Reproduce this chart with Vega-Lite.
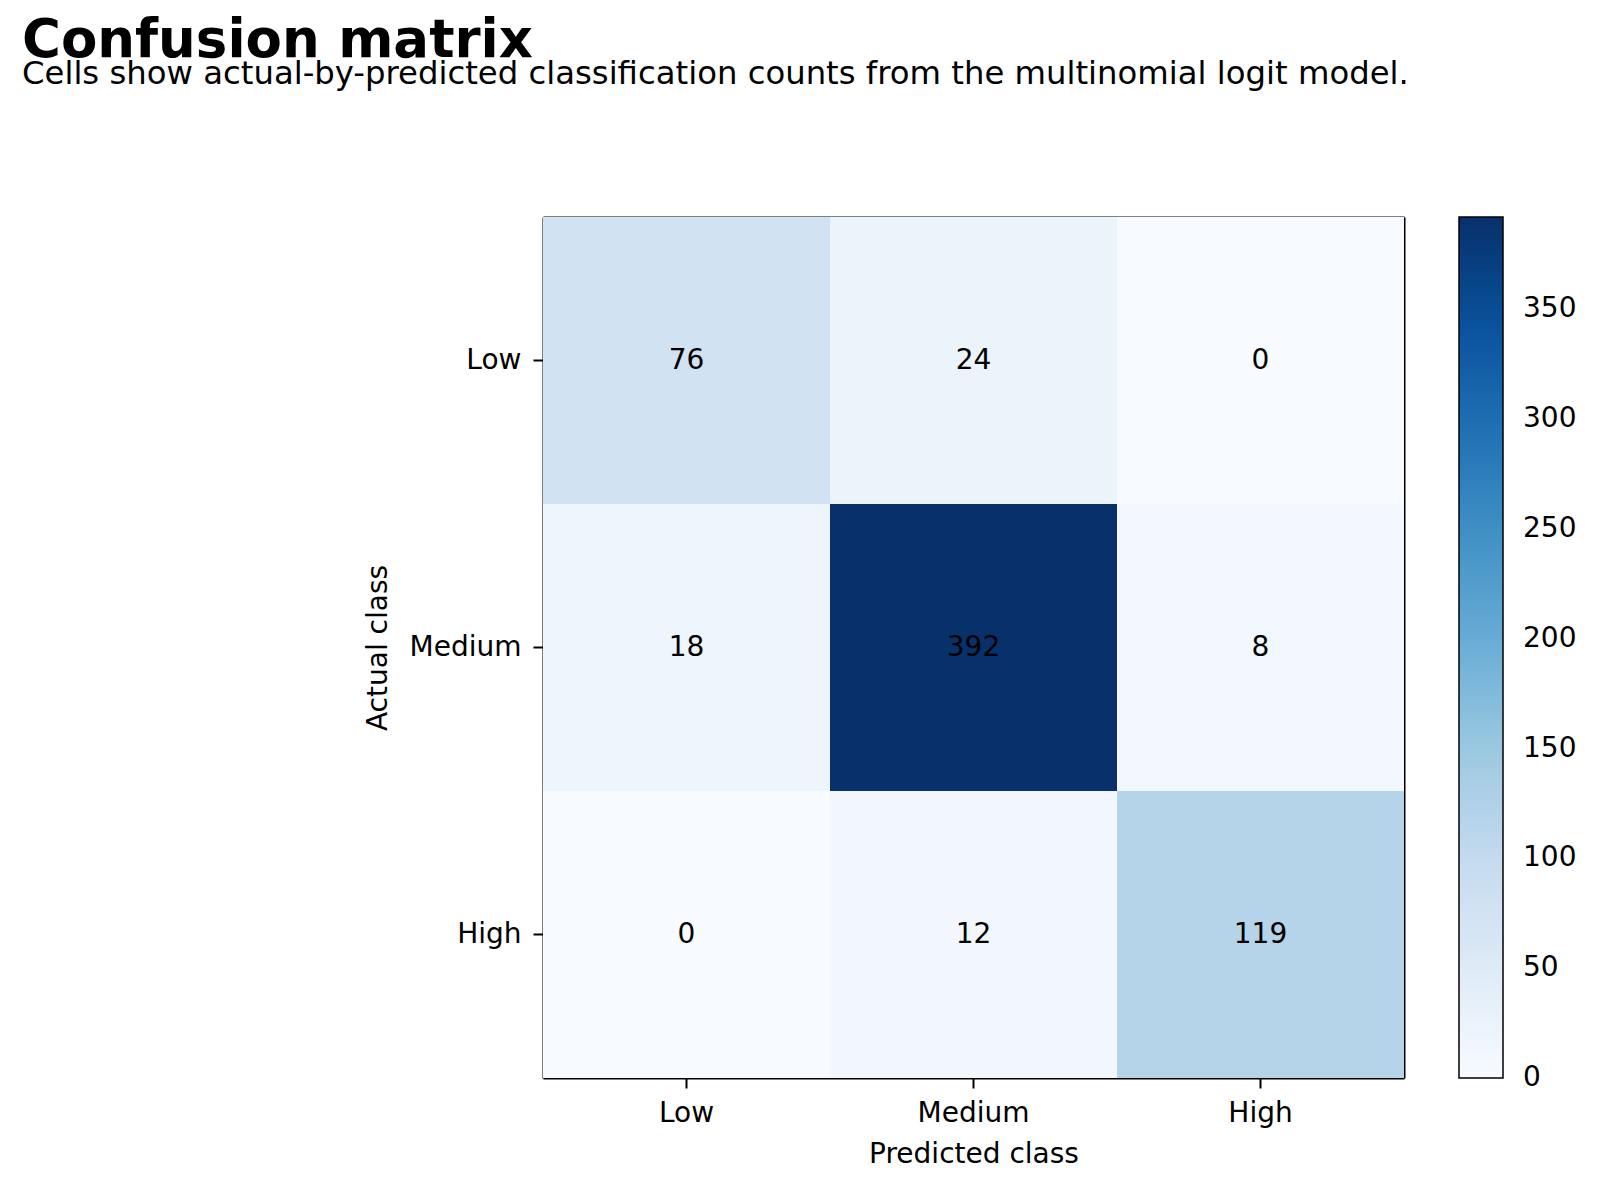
{
  "$schema": "https://vega.github.io/schema/vega-lite/v6.json",
  "autosize": {"type": "none"},
  "padding": {"left": 543, "top": 217, "right": 196, "bottom": 113},
  "width": 861,
  "height": 861,
  "background": "white",
  "title": {
    "text": "Confusion matrix",
    "subtitle": "Cells show actual-by-predicted classification counts from the multinomial logit model.",
    "anchor": "start",
    "frame": "group",
    "dx": -521,
    "dy": 3,
    "offset": 130,
    "font": "DejaVu Sans",
    "fontSize": 53,
    "fontWeight": "bold",
    "color": "black",
    "subtitleFont": "DejaVu Sans",
    "subtitleFontSize": 32.3,
    "subtitleColor": "black",
    "subtitlePadding": -10
  },
  "data": {
    "values": [
      {"actual": "Low", "predicted": "Low", "count": 76},
      {"actual": "Low", "predicted": "Medium", "count": 24},
      {"actual": "Low", "predicted": "High", "count": 0},
      {"actual": "Medium", "predicted": "Low", "count": 18},
      {"actual": "Medium", "predicted": "Medium", "count": 392},
      {"actual": "Medium", "predicted": "High", "count": 8},
      {"actual": "High", "predicted": "Low", "count": 0},
      {"actual": "High", "predicted": "Medium", "count": 12},
      {"actual": "High", "predicted": "High", "count": 119}
    ]
  },
  "encoding": {
    "x": {
      "field": "predicted", "type": "nominal",
      "sort": ["Low", "Medium", "High"],
      "scale": {"paddingInner": 0, "paddingOuter": 0}
    },
    "y": {
      "field": "actual", "type": "nominal",
      "sort": ["Low", "Medium", "High"],
      "scale": {"paddingInner": 0, "paddingOuter": 0}
    }
  },
  "layer": [
    {
      "mark": {"type": "rect"},
      "encoding": {
        "x": {
          "field": "predicted", "type": "nominal",
          "sort": ["Low", "Medium", "High"],
          "axis": {"title": "Predicted class", "labelAngle": 0, "orient": "bottom"}
        },
        "y": {
          "field": "actual", "type": "nominal",
          "sort": ["Low", "Medium", "High"],
          "axis": {"title": "Actual class", "orient": "left"}
        },
        "color": {
          "field": "count", "type": "quantitative",
          "scale": {
            "type": "linear",
            "domain": [0, 49, 98, 147, 196, 245, 294, 343, 392],
            "range": ["#f7fbff", "#deebf7", "#c6dbef", "#9ecae1", "#6baed6", "#4292c6", "#2171b5", "#08519c", "#08306b"],
            "interpolate": "rgb"
          },
          "legend": {
            "title": null,
            "orient": "right",
            "offset": 55,
            "padding": 0,
            "direction": "vertical",
            "gradientLength": 861,
            "gradientThickness": 44,
            "gradientStrokeColor": "black",
            "gradientStrokeWidth": 1.5,
            "values": [0, 50, 100, 150, 200, 250, 300, 350],
            "labelFont": "DejaVu Sans",
            "labelFontSize": 28,
            "labelColor": "black",
            "labelOffset": 20,
            "labelOverlap": false,
            "labelBaseline": "middle",
            "encode": {
              "labels": {
                "enter": {"baseline": {"value": "middle"}},
                "update": {"baseline": {"value": "middle"}}
              }
            }
          }
        }
      }
    },
    {
      "mark": {"type": "text", "font": "DejaVu Sans", "fontSize": 28, "color": "black", "baseline": "middle", "align": "center"},
      "encoding": {
        "x": {
          "field": "predicted", "type": "nominal",
          "sort": ["Low", "Medium", "High"],
          "axis": {"orient": "top", "labels": false, "ticks": false, "title": null}
        },
        "y": {
          "field": "actual", "type": "nominal",
          "sort": ["Low", "Medium", "High"],
          "axis": {"orient": "right", "labels": false, "ticks": false, "title": null}
        },
        "text": {"field": "count", "type": "quantitative"}
      }
    }
  ],
  "resolve": {"axis": {"x": "independent", "y": "independent"}},
  "config": {
    "view": {"stroke": null},
    "axis": {
      "domainColor": "black",
      "domainWidth": 2,
      "tickColor": "black",
      "tickWidth": 2,
      "tickSize": 10,
      "grid": false,
      "labelFont": "DejaVu Sans",
      "labelFontSize": 28,
      "labelColor": "black",
      "labelPadding": 11,
      "titleFont": "DejaVu Sans",
      "titleFontSize": 28,
      "titleFontWeight": "normal",
      "titleColor": "black",
      "titlePadding": 13,
      "zindex": 1
    },
    "axisLeft": {"labelPadding": 12, "titlePadding": 17}
  }
}
